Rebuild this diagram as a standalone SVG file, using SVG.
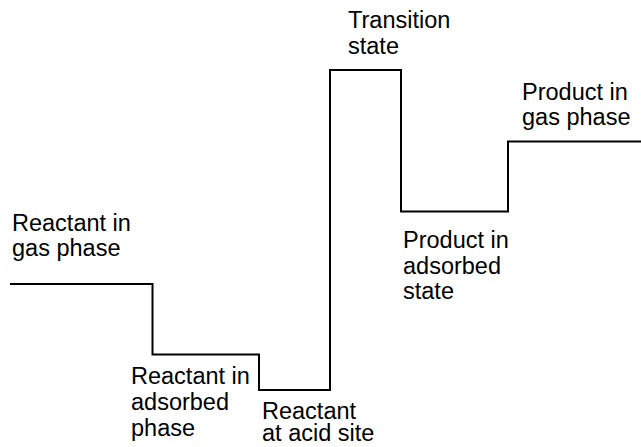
<svg xmlns="http://www.w3.org/2000/svg" width="641" height="447" viewBox="0 0 641 447">
<style>
text{font-family:"Liberation Sans",Arial,sans-serif;font-size:23.5px;fill:#000}
.ln{fill:none;stroke:#000;stroke-width:2}
</style>
<rect width="641" height="447" fill="#fff"/>
<g id="connectors">
<path class="ln" d="M10,284 H152.5 V354.5 H259 V390 H330 V70 H401 V211.5 H508 V141.5 H641"/>
</g>
<g id="reactant-gas"><text x="12" y="231">Reactant in</text><text x="12" y="256">gas phase</text></g>
<g id="reactant-adsorbed"><text x="131" y="384">Reactant in</text><text x="131" y="410">adsorbed</text><text x="131" y="436">phase</text></g>
<g id="reactant-acid"><text x="262" y="419">Reactant</text><text x="262" y="441">at acid site</text></g>
<g id="transition"><text x="348" y="28">Transition</text><text x="348" y="54">state</text></g>
<g id="product-gas"><text x="522" y="100">Product in</text><text x="522" y="125">gas phase</text></g>
<g id="product-adsorbed"><text x="403" y="248">Product in</text><text x="403" y="274">adsorbed</text><text x="403" y="299">state</text></g>
</svg>
